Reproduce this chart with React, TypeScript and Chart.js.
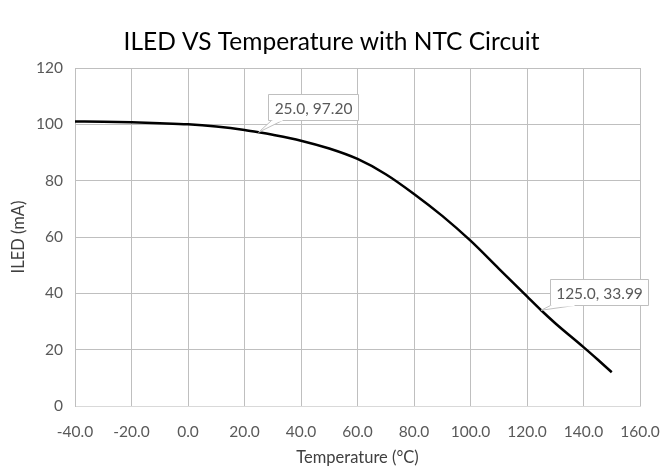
import React, { useEffect, useRef } from "react";
import { Chart, registerables } from "chart.js";

Chart.register(...registerables);

const temperatures = [-40, -30, -20, -10, 0, 10, 20, 25, 30, 40, 50, 60, 70, 80, 90, 100, 110, 120, 125, 130, 140, 145, 150];
const iledValues = [101.0, 100.9, 100.7, 100.4, 100.0, 99.2, 98.0, 97.2, 96.3, 94.2, 91.4, 87.7, 82.3, 75.3, 67.5, 58.7, 48.8, 38.9, 33.99, 29.4, 20.9, 16.5, 12.0];

const chartTitle = "ILED VS Temperature with NTC Circuit";
const calloutTemps = [25.0, 125.0];
const calloutValues = [97.2, 33.99];
const calloutLabels = ["25.0, 97.20", "125.0, 33.99"];
// box placement relative to the marked point (pixels): dx, dy of box top-left, wedge base start/end on box bottom
const calloutBoxes = [
  { dx: 9, dy: -38, w: 90, h: 26, b0: 3, b1: 14 },
  { dx: 9, dy: -31, w: 98, h: 26, b0: 0, b1: 24 },
];

const FONT = "Lato, 'Open Sans', sans-serif";

const titlePlugin = {
  id: "mainTitle",
  afterDraw(chart: any) {
    const { ctx } = chart;
    ctx.save();
    ctx.fillStyle = "#000000";
    ctx.font = `24.5px ${FONT}`;
    ctx.textAlign = "center";
    ctx.textBaseline = "middle";
    ctx.fillText(chartTitle, chart.width / 2, 42);
    ctx.restore();
  },
};

const calloutPlugin = {
  id: "callouts",
  afterDatasetsDraw(chart: any) {
    const { ctx, scales } = chart;
    ctx.save();
    calloutTemps.forEach((t, i) => {
      const px = scales.x.getPixelForValue(t);
      const py = scales.y.getPixelForValue(calloutValues[i]);
      const b = calloutBoxes[i];
      const bx = Math.round(px + b.dx) + 0.5;
      const by = Math.round(py + b.dy) + 0.5;
      ctx.fillStyle = "#ffffff";
      ctx.strokeStyle = "#bfbfbf";
      ctx.lineWidth = 1;
      ctx.beginPath();
      ctx.rect(bx, by, b.w, b.h);
      ctx.fill();
      ctx.stroke();
      ctx.beginPath();
      ctx.moveTo(bx + b.b0, by + b.h);
      ctx.lineTo(px, py);
      ctx.lineTo(bx + b.b1, by + b.h);
      ctx.closePath();
      ctx.fill();
      ctx.beginPath();
      ctx.moveTo(bx + b.b0, by + b.h);
      ctx.lineTo(px, py);
      ctx.lineTo(bx + b.b1, by + b.h);
      ctx.stroke();
      ctx.fillStyle = "#ffffff";
      ctx.fillRect(bx + b.b0 + 1, by + b.h - 1, b.b1 - b.b0 - 1, 2);
      ctx.fillStyle = "#595959";
      ctx.font = `15.5px ${FONT}`;
      ctx.textAlign = "center";
      ctx.textBaseline = "middle";
      ctx.fillText(calloutLabels[i], bx + b.w / 2, by + b.h / 2 + 1);
    });
    ctx.restore();
  },
};

export default function App() {
  const ref = useRef<HTMLCanvasElement | null>(null);
  useEffect(() => {
    if (!ref.current) return;
    const chart = new Chart(ref.current, {
      type: "line",
      data: {
        datasets: [
          {
            data: temperatures.map((t, i) => ({ x: t, y: iledValues[i] })),
            borderColor: "#000000",
            borderWidth: 2.5,
            pointRadius: 0,
            cubicInterpolationMode: "monotone",
            fill: false,
          },
        ],
      },
      options: {
        animation: false,
        responsive: false,
        layout: { padding: { top: 68, right: 23, left: 0, bottom: 0 } },
        plugins: {
          legend: { display: false },
          tooltip: { enabled: false },
          title: { display: false },
        },
        scales: {
          x: {
            type: "linear",
            min: -40,
            max: 160,
            ticks: {
              stepSize: 20,
              color: "#595959",
              font: { family: FONT, size: 15.5 },
              padding: 17,
              maxRotation: 0,
              callback: (v: any) => Number(v).toFixed(1),
            },
            grid: { color: "#bfbfbf", drawTicks: false },
            border: { color: "#d9d9d9" },
            title: {
              display: true,
              text: "Temperature (°C)",
              color: "#404040",
              font: { family: FONT, size: 16.5 },
              padding: { top: 0, bottom: 3 },
            },
            afterFit: (s: any) => {
              s.height = 65;
              s.paddingLeft = 0;
              s.paddingRight = 0;
            },
          },
          y: {
            min: 0,
            max: 120,
            ticks: {
              stepSize: 20,
              color: "#595959",
              font: { family: FONT, size: 15.5 },
              padding: 12,
            },
            grid: { color: "#bfbfbf", drawTicks: false },
            border: { color: "#bfbfbf" },
            title: {
              display: true,
              text: "ILED (mA)",
              color: "#404040",
              font: { family: FONT, size: 16.5 },
              padding: { top: 9, bottom: 0 },
            },
            afterFit: (s: any) => {
              s.width = 75;
              s.paddingTop = 0;
              s.paddingBottom = 0;
            },
          },
        },
      },
      plugins: [calloutPlugin, titlePlugin],
    } as any);
    return () => chart.destroy();
  }, []);
  return (
    <div style={{ position: "fixed", left: 0, top: 0, width: 663, height: 471, background: "#fff" }}>
      <canvas ref={ref} width={663} height={471} style={{ width: 663, height: 471 }} />
    </div>
  );
}
